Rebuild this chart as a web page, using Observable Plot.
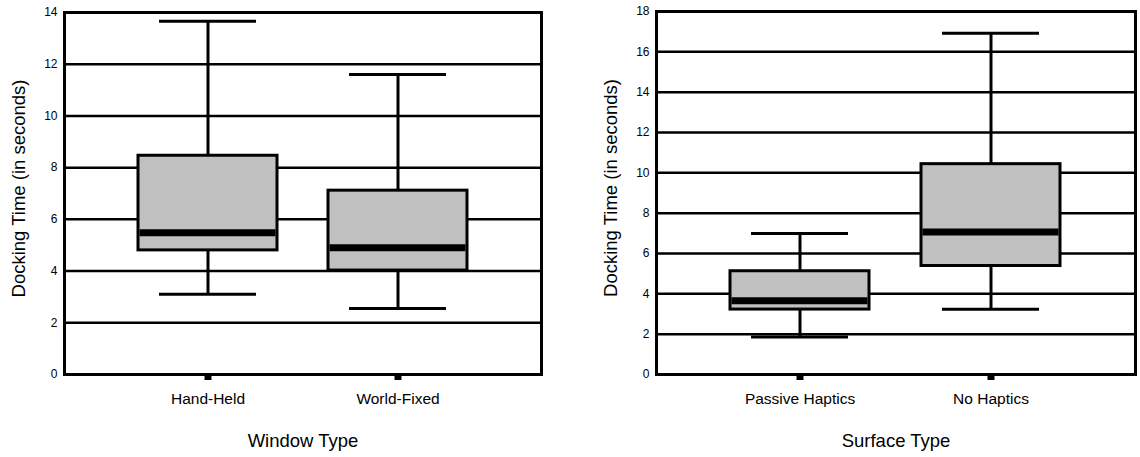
<!DOCTYPE html>
<html><head><meta charset="utf-8">
<script src="https://cdn.jsdelivr.net/npm/d3@7"></script>
<script src="https://cdn.jsdelivr.net/npm/@observablehq/plot@0.6"></script>
<style>
body{margin:0;background:#fff}
#wrap{display:flex;width:1140px;height:457px}
</style>
</head><body><div id="wrap"></div>
<script>
// Left chart: Window Type
const windowTypes = ["Hand-Held", "World-Fixed"];
const windowMin = [3.1, 2.55];
const windowQ1 = [4.8, 4.02];
const windowMedian = [5.48, 4.9];
const windowQ3 = [8.46, 7.11];
const windowMax = [13.66, 11.6];
const windowTicks = [0, 2, 4, 6, 8, 10, 12, 14];

// Right chart: Surface Type
const surfaceTypes = ["Passive Haptics", "No Haptics"];
const surfaceMin = [1.86, 3.24];
const surfaceQ1 = [3.22, 5.38];
const surfaceMedian = [3.66, 7.07];
const surfaceQ3 = [5.12, 10.43];
const surfaceMax = [6.99, 16.92];
const surfaceTicks = [0, 2, 4, 6, 8, 10, 12, 14, 16, 18];

const yTitle = "Docking Time (in seconds)";

function boxChart({categories, mins, q1s, medians, q3s, maxs, ticks, xTitle, width, marginLeft, marginRight, marginTop}) {
  const rows = categories.map((c, i) => ({cat: c, min: mins[i], q1: q1s[i], med: medians[i], q3: q3s[i], max: maxs[i]}));
  const yMax = ticks[ticks.length - 1];
  return Plot.plot({
    width, height: 457, marginLeft, marginRight, marginTop, marginBottom: 83,
    style: {fontFamily: "Liberation Sans, Arial, sans-serif", background: "white", color: "black", overflow: "visible"},
    x: {type: "band", domain: categories, paddingInner: 0.27, paddingOuter: 0.386},
    y: {domain: [0, yMax]},
    marks: [
      Plot.ruleY(ticks.filter(v => v > 0 && v < yMax), {stroke: "black", strokeWidth: 2.5}),
      Plot.ruleX(rows, {x: "cat", y1: "q3", y2: "max", stroke: "black", strokeWidth: 3}),
      Plot.ruleX(rows, {x: "cat", y1: "min", y2: "q1", stroke: "black", strokeWidth: 3}),
      Plot.tickY(rows, {x: "cat", y: "max", stroke: "black", strokeWidth: 3, insetLeft: 21, insetRight: 21}),
      Plot.tickY(rows, {x: "cat", y: "min", stroke: "black", strokeWidth: 3, insetLeft: 21, insetRight: 21}),
      Plot.barY(rows, {x: "cat", y1: "q1", y2: "q3", fill: "#c0c0c0", stroke: "black", strokeWidth: 3}),
      Plot.tickY(rows, {x: "cat", y: "med", stroke: "black", strokeWidth: 7, insetLeft: 1.5, insetRight: 1.5}),
      Plot.frame({stroke: "black", strokeWidth: 3}),
      Plot.axisY({ticks, tickSize: 0, tickPadding: 7, fontSize: 12, label: null}),
      Plot.axisX({tickSize: 6, strokeWidth: 7, tickPadding: 12, fontSize: 15.5, label: null}),
      Plot.text([xTitle], {frameAnchor: "bottom", dy: 67, fontSize: 18.5, lineAnchor: "middle"}),
      Plot.text([yTitle], {frameAnchor: "left", rotate: -90, dx: -45, dy: -5, fontSize: 18.5, textAnchor: "middle", lineAnchor: "middle"})
    ]
  });
}

const wrap = document.getElementById("wrap");
wrap.appendChild(boxChart({
  categories: windowTypes, mins: windowMin, q1s: windowQ1, medians: windowMedian, q3s: windowQ3, maxs: windowMax,
  ticks: windowTicks, xTitle: "Window Type", width: 580, marginLeft: 64, marginRight: 39, marginTop: 12
}));
wrap.appendChild(boxChart({
  categories: surfaceTypes, mins: surfaceMin, q1s: surfaceQ1, medians: surfaceMedian, q3s: surfaceQ3, maxs: surfaceMax,
  ticks: surfaceTicks, xTitle: "Surface Type", width: 560, marginLeft: 76, marginRight: 5, marginTop: 11
}));
</script>
</body></html>
